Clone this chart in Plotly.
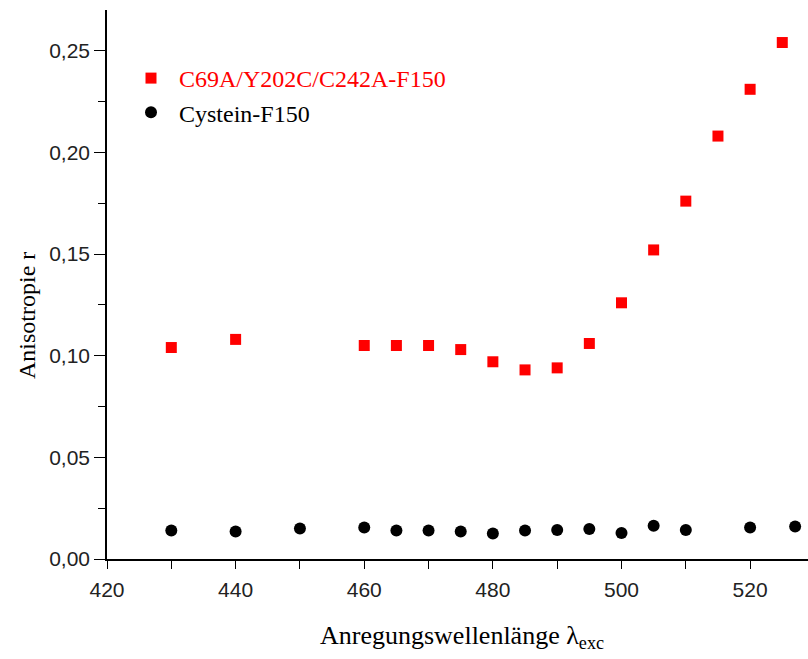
import plotly.graph_objects as go

# Data
x_red = [430, 440, 460, 465, 470, 475, 480, 485, 490, 495, 500, 505, 510, 515, 520, 525]
y_red = [0.104, 0.108, 0.105, 0.105, 0.105, 0.103, 0.097, 0.093, 0.094, 0.106,
         0.126, 0.152, 0.176, 0.208, 0.231, 0.254]

x_black = [430, 440, 450, 460, 465, 470, 475, 480, 485, 490, 495, 500, 505, 510, 520, 527]
y_black = [0.014, 0.0135, 0.015, 0.0155, 0.014, 0.014, 0.0135, 0.0125, 0.014, 0.0143,
           0.0147, 0.0128, 0.0163, 0.0143, 0.0155, 0.016]

name_red = "C69A/Y202C/C242A-F150"
name_black = "Cystein-F150"

x_ticks = [420, 440, 460, 480, 500, 520]
y_ticks = [0.00, 0.05, 0.10, 0.15, 0.20, 0.25]
y_ticklabels = ["0,00", "0,05", "0,10", "0,15", "0,20", "0,25"]

x_title = "Anregungswellenlänge λ<sub>exc</sub>"
y_title = "Anisotropie r"

W, H = 808, 659
L, R, T, B = 107, 0, 10, 100
PW, PH = W - L - R, H - B - T

fig = go.Figure()
fig.add_trace(go.Scatter(
    x=x_red, y=y_red, mode="markers",
    name='<span style="color:#ff0000">' + name_red + '</span>',
    marker=dict(symbol="square", size=11, color="#ff0000"),
))
fig.add_trace(go.Scatter(
    x=x_black, y=y_black, mode="markers",
    name=name_black,
    marker=dict(symbol="circle", size=12, color="#000000"),
))

serif = "Liberation Serif, Times New Roman, serif"
sans = "Liberation Sans Narrow, Liberation Sans, Arial, sans-serif"

fig.update_layout(
    width=W, height=H,
    margin=dict(l=L, r=R, t=T, b=B),
    paper_bgcolor="white", plot_bgcolor="white",
    showlegend=True,
    legend=dict(
        x=(123 - L) / PW, y=(H - B - 56) / PH,
        xanchor="left", yanchor="top",
        itemwidth=46,
        font=dict(family=serif, size=24, color="#000000"),
        bgcolor="rgba(0,0,0,0)", tracegroupgap=0,
    ),
    xaxis=dict(
        range=[420, 529], showgrid=False, zeroline=False,
        showline=True, linecolor="#000000", linewidth=1.5,
        ticks="outside", ticklen=8, tickwidth=1.3, tickcolor="#000000",
        tickvals=x_ticks, ticktext=[str(v) for v in x_ticks],
        tickfont=dict(family=sans, size=21, color="#222222"),
        ticklabelstandoff=3,
        minor=dict(dtick=10, ticks="outside", ticklen=8, tickwidth=1.3, tickcolor="#000000", showgrid=False),
    ),
    yaxis=dict(
        range=[0, 0.27], showgrid=False, zeroline=False,
        showline=True, linecolor="#000000", linewidth=1.5,
        ticks="outside", ticklen=11, tickwidth=1.3, tickcolor="#000000",
        tickvals=y_ticks, ticktext=y_ticklabels,
        tickfont=dict(family=sans, size=21, color="#222222"),
        minor=dict(dtick=0.025, tick0=0, ticks="outside", ticklen=7, tickwidth=1.3, tickcolor="#000000", showgrid=False),
    ),
    annotations=[
        dict(text=x_title, xref="paper", yref="paper",
             x=(462 - L) / PW, y=-(637 - (H - B)) / PH,
             xanchor="center", yanchor="middle", showarrow=False,
             font=dict(family=serif, size=26, color="#000000")),
        dict(text=y_title, xref="paper", yref="paper",
             x=-(L - 27) / PW, y=(H - B - 316) / PH,
             xanchor="center", yanchor="middle", showarrow=False, textangle=-90,
             font=dict(family=serif, size=24, color="#000000")),
    ],
)

fig.write_html("out.html")
